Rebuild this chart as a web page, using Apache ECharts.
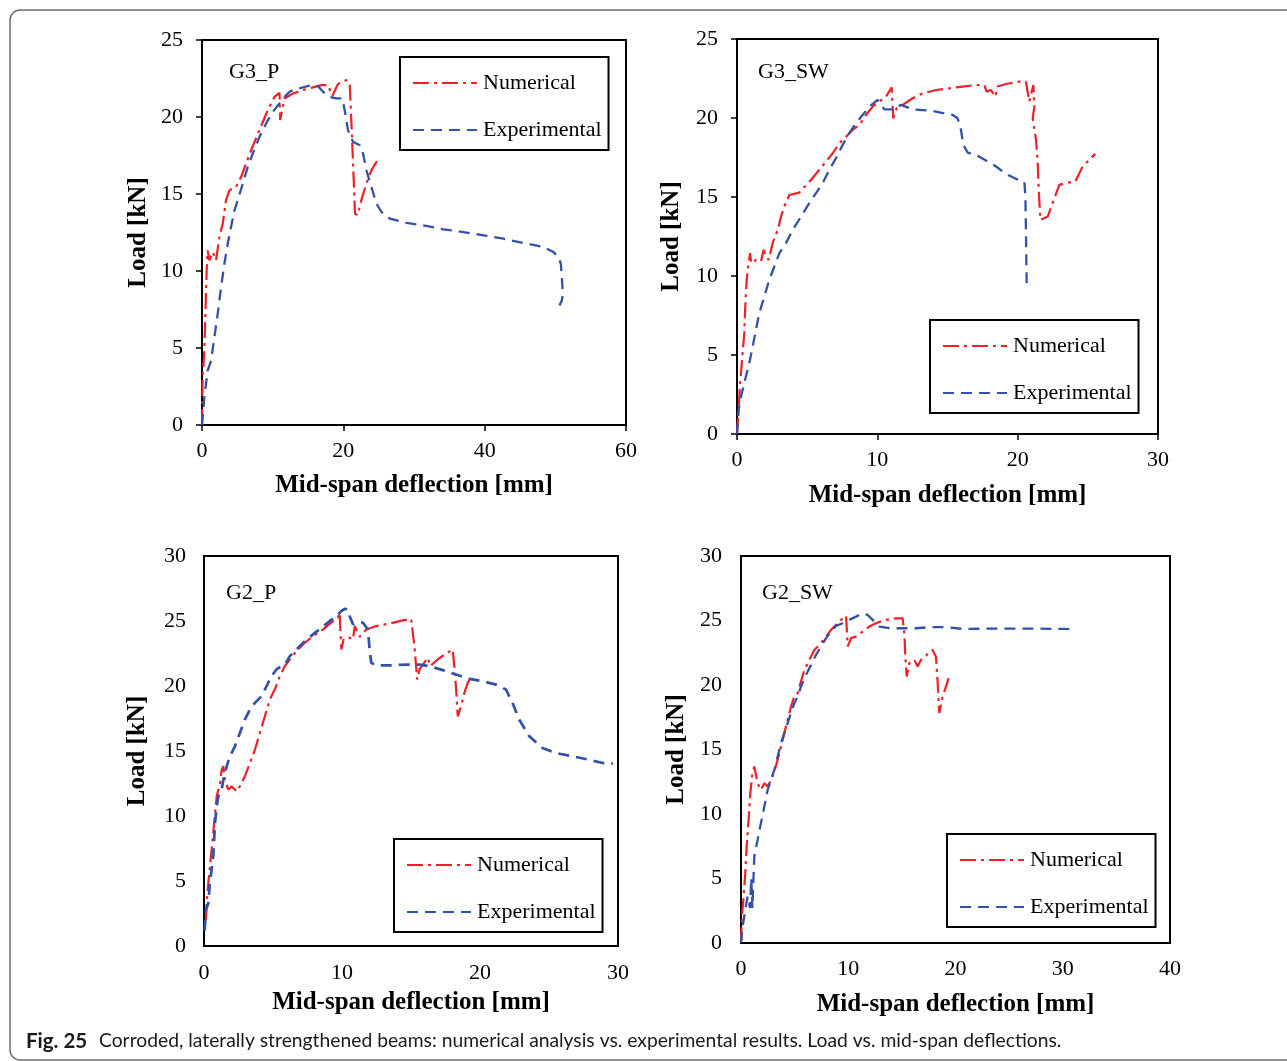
<!DOCTYPE html>
<html><head><meta charset="utf-8">
<script src="https://cdn.jsdelivr.net/npm/echarts@6/dist/echarts.min.js"></script>
<style>html,body{margin:0;padding:0;background:#fff}#c{width:1287px;height:1061px}</style>
</head><body><div id="c"></div>
<script>
// ---------------- DATA (deflection [mm], load [kN]) ----------------
const panelTitles = ['G3_P', 'G3_SW', 'G2_P', 'G2_SW'];
const seriesNames = ['Numerical', 'Experimental'];
const xMax = [60, 30, 30, 40];
const xStep = [20, 10, 10, 10];
const yMax = [25, 25, 30, 30];
const yStep = [5, 5, 5, 5];

const g3pNumerical = [[0,0],[0.09,3.1],[0.33,4.84],[0.47,7.0],[0.66,10.04],[0.8,11.34],[1.04,10.69],[1.51,11.23],[1.99,10.69],[2.46,12.2],[2.93,13.07],[3.4,14.6],[3.88,15.24],[4.82,15.46],[5.53,16.1],[6.24,16.98],[6.95,17.84],[8.13,19.15],[9.31,20.45],[10.26,21.31],[10.97,21.57],[11.06,19.8],[11.68,21.2],[12.86,21.53],[14.28,21.75],[15.7,21.92],[16.88,22.07],[17.83,22.07],[18.44,21.36],[19.24,22.14],[20.43,22.4],[20.9,22.2],[21.09,20.23],[21.28,18.06],[21.47,15.89],[21.65,13.73],[22.03,13.62],[22.55,14.6],[23.26,15.68],[23.97,16.54],[25.06,17.37]];
const g3pExperimental = [[0,0],[0.33,1.8],[0.8,3.53],[1.28,4.18],[1.75,5.7],[2.22,7.22],[2.7,8.95],[3.17,10.47],[3.64,11.77],[4.11,12.86],[4.59,13.94],[5.06,14.59],[5.77,15.68],[6.48,16.76],[7.19,17.63],[8.13,18.71],[9.08,19.58],[10.02,20.34],[10.97,20.88],[11.68,21.31],[12.39,21.64],[13.1,21.79],[14.28,21.92],[15.46,22.07],[16.41,22.01],[17.12,21.64],[18.06,21.31],[19.01,21.21],[19.86,21.21],[20.19,20.45],[20.66,19.15],[21.37,18.39],[22.32,18.17],[22.79,17.63],[23.26,16.54],[23.97,15.46],[24.68,14.38],[25.39,13.83],[26.57,13.4],[28.94,13.12],[31.3,12.97],[34.14,12.71],[36.97,12.53],[39.81,12.32],[42.65,12.1],[45.48,11.82],[48.32,11.56],[49.74,11.23],[50.45,10.91],[50.78,10.47],[50.92,9.61],[51.06,8.52],[50.92,8.09],[50.59,7.76]];

const g3swNumerical = [[0,0],[0.1,1.33],[0.21,3.01],[0.36,4.7],[0.52,6.39],[0.59,8.07],[0.69,9.76],[0.83,10.81],[0.93,11.45],[1.02,10.81],[1.35,11.02],[1.71,10.92],[1.9,11.66],[2.07,11.24],[2.26,11.02],[2.54,12.08],[2.9,12.92],[3.14,13.76],[3.37,14.4],[3.73,15.13],[4.44,15.28],[5.27,16.08],[5.87,16.72],[6.34,17.24],[6.82,17.77],[7.29,18.4],[7.77,18.82],[8.24,19.25],[8.72,19.56],[9.19,20.19],[9.67,20.72],[10.14,21.04],[10.62,21.35],[11.02,21.94],[11.14,19.98],[11.38,20.62],[11.81,20.83],[12.52,21.25],[13.23,21.56],[14.18,21.77],[15.13,21.88],[16.08,21.99],[17.03,22.09],[17.62,22.09],[17.79,21.67],[18.1,21.77],[18.41,21.35],[18.57,21.99],[19.17,22.15],[20.12,22.3],[20.59,22.3],[20.83,21.04],[21.12,22.09],[21.19,20.72],[21.07,19.98],[21.31,18.61],[21.43,17.14],[21.5,15.45],[21.62,13.55],[22.14,13.76],[22.49,14.61],[22.97,15.77],[23.56,15.91],[24.11,15.98],[24.63,16.93],[25.53,17.73]];
const g3swExperimental = [[0,0],[0.12,1.54],[0.29,2.38],[0.52,3.23],[0.88,4.49],[1.12,5.54],[1.35,6.6],[1.59,7.65],[1.95,8.71],[2.3,9.76],[2.66,10.6],[3.02,11.45],[3.49,12.08],[3.97,12.92],[4.56,13.76],[5.15,14.61],[5.63,15.24],[6.1,15.87],[6.58,16.72],[7.05,17.45],[7.53,18.3],[8.0,19.03],[8.48,19.67],[8.95,20.19],[9.43,20.72],[10.02,21.14],[10.5,20.55],[11.09,20.55],[11.69,20.83],[12.52,20.55],[13.94,20.45],[15.37,20.19],[15.72,19.98],[15.96,19.25],[16.13,18.3],[16.44,17.81],[17.03,17.66],[17.74,17.31],[18.46,16.93],[19.17,16.46],[19.88,16.15],[20.48,15.94],[20.55,15.03],[20.59,12.92],[20.62,10.81],[20.64,9.55]];

const g2pNumerical = [[0.14,2.0],[0.19,3.29],[0.31,4.83],[0.43,6.11],[0.55,7.4],[0.67,8.68],[0.8,10.22],[0.92,11.51],[1.16,12.54],[1.28,13.56],[1.4,13.82],[1.52,12.79],[1.76,12.02],[2.0,12.28],[2.36,11.89],[2.6,12.28],[2.96,13.05],[3.33,14.08],[3.69,15.1],[4.05,16.39],[4.41,17.67],[4.77,18.96],[5.13,19.73],[5.49,20.76],[5.86,21.53],[6.22,22.04],[6.7,22.68],[7.3,23.32],[7.9,23.84],[8.63,24.35],[9.35,24.99],[9.71,25.25],[9.83,25.64],[9.88,24.35],[9.95,22.81],[10.12,23.63],[10.55,23.71],[10.8,23.58],[10.92,24.61],[11.28,23.79],[11.76,24.35],[12.48,24.61],[13.45,24.81],[14.41,25.05],[15.01,25.17],[15.13,24.09],[15.25,23.07],[15.37,21.53],[15.45,20.5],[15.61,21.27],[16.22,22.17],[16.39,21.53],[16.94,22.04],[17.54,22.5],[18.02,22.81],[18.14,21.53],[18.27,19.73],[18.39,17.67],[18.63,18.44],[18.87,19.47],[19.11,20.24],[19.35,20.63]];
const g2pExperimental = [[0.05,1.2],[0.14,2.77],[0.31,3.29],[0.43,4.83],[0.55,5.86],[0.67,6.88],[0.72,7.91],[0.8,9.45],[0.92,10.74],[1.04,11.51],[1.28,12.02],[1.4,12.79],[1.64,13.82],[1.88,14.59],[2.24,15.36],[2.6,16.39],[2.96,17.42],[3.33,18.19],[3.69,18.7],[4.17,19.21],[4.53,19.98],[4.89,20.75],[5.25,21.27],[5.61,21.53],[5.86,21.65],[6.22,22.3],[6.7,22.81],[7.18,23.32],[7.9,23.97],[8.51,24.48],[9.11,24.99],[9.59,25.38],[9.95,25.76],[10.19,25.94],[10.43,25.89],[10.55,25.38],[10.8,24.74],[11.04,24.87],[11.52,24.87],[11.88,24.35],[12.0,22.81],[12.12,21.78],[12.48,21.58],[13.45,21.58],[14.65,21.65],[15.61,21.65],[16.34,21.53],[17.3,21.22],[18.27,20.88],[19.23,20.55],[20.19,20.37],[21.16,20.11],[21.88,19.73],[22.36,18.7],[22.84,17.42],[23.57,16.13],[24.53,15.23],[25.49,14.85],[26.7,14.59],[27.9,14.33],[28.87,14.08],[29.64,14.03]];

const g2swNumerical = [[0,0],[0.09,2.07],[0.22,3.36],[0.4,5.42],[0.53,7.49],[0.71,9.55],[0.87,11.62],[1.03,12.91],[1.24,13.68],[1.4,13.81],[1.55,12.39],[1.86,11.88],[2.18,12.39],[2.49,12.14],[2.8,12.65],[3.11,13.3],[3.42,14.2],[3.73,15.23],[4.04,16.27],[4.35,17.3],[4.66,18.33],[4.97,19.11],[5.28,19.37],[5.59,20.27],[5.91,21.17],[6.37,21.95],[6.84,22.72],[7.3,23.11],[7.93,23.75],[8.39,24.27],[8.86,24.66],[9.48,25.17],[9.79,25.36],[9.85,24.53],[9.95,22.98],[10.26,23.63],[10.72,23.75],[11.34,24.14],[11.97,24.53],[12.59,24.79],[13.21,24.99],[13.83,25.1],[14.45,25.17],[15.07,25.17],[15.23,24.01],[15.32,22.2],[15.45,20.66],[15.7,21.69],[16.16,21.95],[16.47,21.43],[16.78,21.95],[17.25,22.26],[17.56,22.59],[17.87,22.72],[18.18,22.2],[18.34,20.14],[18.49,17.82],[18.8,19.11],[19.11,19.88],[19.36,20.53]];
const g2swExperimental = [[0,0],[0.16,1.29],[0.4,2.58],[0.62,3.61],[0.84,2.71],[0.96,5.03],[1.06,2.71],[1.24,6.71],[1.55,8.0],[1.86,9.3],[2.18,10.59],[2.49,11.88],[2.8,12.65],[3.11,13.43],[3.42,14.46],[3.73,15.49],[4.04,16.27],[4.35,17.04],[4.66,17.82],[4.97,18.59],[5.28,19.11],[5.59,19.88],[5.91,20.53],[6.22,21.04],[6.53,21.56],[6.99,22.33],[7.46,22.98],[7.93,23.63],[8.39,24.14],[8.86,24.58],[9.48,24.79],[10.1,25.05],[10.72,25.3],[11.34,25.56],[11.81,25.43],[12.28,25.05],[12.9,24.53],[13.83,24.4],[15.07,24.4],[16.32,24.4],[17.56,24.48],[19.11,24.48],[20.67,24.35],[23.78,24.37],[26.88,24.37],[29.99,24.35],[30.92,24.32]];

const numericalData = [g3pNumerical, g3swNumerical, g2pNumerical, g2swNumerical];
const experimentalData = [g3pExperimental, g3swExperimental, g2pExperimental, g2swExperimental];

// ---------------- LAYOUT / STYLE ----------------
const SERIF = '"Liberation Serif", "Times New Roman", serif';
const SANS = 'Lato, "Open Sans", sans-serif';
const RED = '#ee2028', BLUE = '#3351a8';
const grids = [
  {left:202, top:40, width:424, height:385},
  {left:737, top:39, width:421, height:395},
  {left:204, top:556, width:414, height:390},
  {left:741, top:556, width:429, height:387}
];
const showTicks = [true, true, false, false];
const xLabelMargin = [15, 15, 16, 15];
const yLabelMargin = [19, 19, 18, 19];
const xNameGap = [48, 49, 44, 49];
const yNameGap = [51, 53, 54, 52];
const legendPos = [[400,57],[930,320],[394,839],[947,834]];
const titlePos = [[229,72],[758,72],[226,593],[762,593]];

const option = {
  animation: false,
  backgroundColor: '#fff',
  grid: grids.map(g => Object.assign({show:true, borderColor:'#000', borderWidth:2, backgroundColor:'transparent'}, g)),
  xAxis: grids.map((g,i) => ({
    type:'value', gridIndex:i, min:0, max:xMax[i], interval:xStep[i],
    name:'Mid-span deflection [mm]', nameLocation:'middle', nameGap:xNameGap[i],
    nameTextStyle:{fontFamily:SERIF, fontWeight:'bold', fontSize:25, color:'#000'},
    axisLine:{show:true, onZero:false, lineStyle:{color:'#000', width:2}},
    axisTick:{show:showTicks[i], inside:false, length:6, lineStyle:{color:'#000', width:1.5}},
    axisLabel:{margin:xLabelMargin[i], fontFamily:SERIF, fontSize:22, color:'#000'},
    splitLine:{show:false}
  })),
  yAxis: grids.map((g,i) => ({
    type:'value', gridIndex:i, min:0, max:yMax[i], interval:yStep[i],
    name:'Load [kN]', nameLocation:'middle', nameGap:yNameGap[i],
    nameTextStyle:{fontFamily:SERIF, fontWeight:'bold', fontSize:25, color:'#000'},
    axisLine:{show:true, onZero:false, lineStyle:{color:'#000', width:2}},
    axisTick:{show:showTicks[i], inside:false, length:6, lineStyle:{color:'#000', width:1.5}},
    axisLabel:{margin:yLabelMargin[i], fontFamily:SERIF, fontSize:22, color:'#000'},
    splitLine:{show:false}
  })),
  legend: legendPos.map(p => ({
    left:p[0], top:p[1], orient:'vertical', data:seriesNames,
    borderColor:'#000', borderWidth:2, borderRadius:0, padding:[15,7,9,12],
    itemGap:25, itemWidth:64, itemHeight:14, selectedMode:false,
    itemStyle:{opacity:0, borderWidth:0},
    textStyle:{fontFamily:SERIF, fontSize:22, color:'#000', lineHeight:22, padding:[0,0,0,1]}
  })),
  series: [],
  graphic: []
};

for (let i = 0; i < 4; i++) {
  option.series.push({
    name:'Numerical', type:'line', xAxisIndex:i, yAxisIndex:i, data:numericalData[i],
    symbol:'none', showSymbol:false, clip:true,
    lineStyle:{color:RED, width:2.2, type:[16,5,3,5]}, itemStyle:{color:RED}
  });
  option.series.push({
    name:'Experimental', type:'line', xAxisIndex:i, yAxisIndex:i, data:experimentalData[i],
    symbol:'none', showSymbol:false, clip:true,
    lineStyle:{color:BLUE, width: i === 2 ? 2.7 : 2.3, type:[11,7]}, itemStyle:{color:BLUE}
  });
  option.graphic.push({
    type:'text', x:titlePos[i][0], y:titlePos[i][1],
    style:{text:panelTitles[i], font:'22px ' + SERIF, fill:'#000', verticalAlign:'middle'}
  });
}

// outer frame and caption
option.graphic.push({
  type:'rect', shape:{x:10, y:10, width:1300, height:1050, r:10},
  style:{fill:'none', stroke:'#6e6e6e', lineWidth:1.5}, z:-1
});
option.graphic.push({
  type:'text', x:26, y:1041,
  style:{text:'Fig. 25', font:'bold 20.5px ' + SANS, fill:'#1a1a1a', verticalAlign:'middle'}
});
option.graphic.push({
  type:'text', x:99, y:1041,
  style:{text:'Corroded, laterally strengthened beams: numerical analysis vs. experimental results. Load vs. mid-span deflections.',
         font:'19.3px ' + SANS, fill:'#1a1a1a', verticalAlign:'middle'}
});

const chart = echarts.init(document.getElementById('c'), null, {renderer:'canvas'});
chart.setOption(option);
</script></body></html>
